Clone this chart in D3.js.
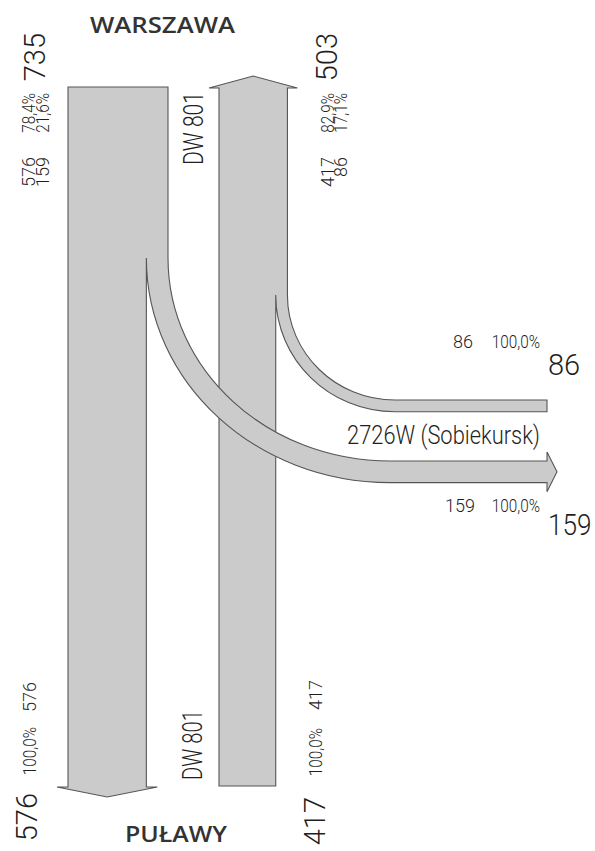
<!DOCTYPE html>
<html>
<head>
<meta charset="utf-8">
<script src="https://cdn.jsdelivr.net/npm/d3@7"></script>
<style>
  body { margin: 0; background: #fff; }
  svg text { font-family: Roboto, "Liberation Sans", sans-serif; font-weight: 300; fill: #1f1f1f; }
  svg text.place { font-family: "Open Sans", "DejaVu Sans", sans-serif; font-weight: 600; fill: #333; }
</style>
</head>
<body>
<script>
// places at both ends of DW 801 and the side road
var places = ["WARSZAWA", "PUŁAWY"];
var roads = ["DW 801", "2726W (Sobiekursk)"];

// traffic leaving Warszawa (left lane, going down): to Puławy, to Sobiekursk
var southNames = ["Puławy", "Sobiekursk"];
var southValues = [576, 159];

// traffic going to Warszawa (right lane, going up): from Puławy, from Sobiekursk
var northNames = ["Puławy", "Sobiekursk"];
var northValues = [417, 86];

var southTotal = d3.sum(southValues);
var northTotal = d3.sum(northValues);

var pct = d3.formatLocale({decimal: ",", thousands: " ", grouping: [3], currency: ["", ""]}).format(".1%");

var W = 595, H = 851;

// band width is proportional to traffic
var bw = d3.scaleLinear().domain([0, southTotal]).range([0, 100]);

var lane = {
    leftX: 68,
    rightX: 219,
    top: 87,
    bottom: 786,
    endX: 547
};

var K = 0.5523;
var SMALL = 18, BIG = 29;

var svg = d3.select("body").append("svg")
    .attr("width", W)
    .attr("height", H);

// vertical tangent (ax,ay) down to horizontal tangent (bx,by)
function quarter(p, ax, ay, bx, by) {
    p.bezierCurveTo(ax, ay + K * (by - ay), bx - K * (bx - ax), by, bx, by);
}
function quarterBack(p, bx, by, ax, ay) {
    p.bezierCurveTo(bx - K * (bx - ax), by, ax, ay + K * (by - ay), ax, ay);
}

function northShape() {
    var x0 = lane.rightX;
    var full = bw(northTotal), keep = bw(northValues[0]), side = bw(northValues[1]);
    var yTurn = 295, cx = 395, yTop = 400;
    var p = d3.path();
    p.moveTo(x0, lane.bottom);
    p.lineTo(x0, 88);
    p.lineTo(x0 - 10, 88);
    p.lineTo(x0 + full / 2, 76);
    p.lineTo(x0 + full + 10, 88);
    p.lineTo(x0 + full, 88);
    p.lineTo(x0 + full, yTurn);
    quarter(p, x0 + full, yTurn, cx, yTop);
    p.lineTo(lane.endX, yTop);
    p.lineTo(lane.endX, yTop + side);
    p.lineTo(cx, yTop + side);
    quarterBack(p, cx, yTop + side, x0 + keep, yTurn);
    p.lineTo(x0 + keep, lane.bottom);
    p.closePath();
    return p.toString();
}

function southShape() {
    var x0 = lane.leftX;
    var full = bw(southTotal), keep = bw(southValues[0]), side = bw(southValues[1]);
    var yTurn = 258, cx = 390, yTop = 461;
    var yEnd = lane.bottom + 1;
    var p = d3.path();
    p.moveTo(x0, lane.top);
    p.lineTo(x0 + full, lane.top);
    p.lineTo(x0 + full, yTurn);
    quarter(p, x0 + full, yTurn, cx, yTop);
    p.lineTo(lane.endX, yTop);
    // arrow to Sobiekursk
    p.lineTo(lane.endX, yTop - 9);
    p.lineTo(lane.endX + 10, yTop + side / 2);
    p.lineTo(lane.endX, yTop + side + 9);
    p.lineTo(lane.endX, yTop + side);
    p.lineTo(cx, yTop + side);
    quarterBack(p, cx, yTop + side, x0 + keep, yTurn);
    // arrow to Puławy
    p.lineTo(x0 + keep, yEnd);
    p.lineTo(x0 + keep + 11, yEnd);
    p.lineTo(x0 + keep / 2, yEnd + 10);
    p.lineTo(x0 - 11, yEnd);
    p.lineTo(x0, yEnd);
    p.closePath();
    return p.toString();
}

svg.selectAll("path.flow")
    .data([northShape(), southShape()])
    .enter()
    .append("path")
    .attr("class", "flow")
    .attr("d", function(d) { return d; })
    .attr("fill", "#cbcbcb")
    .attr("stroke", "#555")
    .attr("stroke-width", 1.1)
    .attr("stroke-linejoin", "miter");

function fit(t, len) {
    t.attr("textLength", len).attr("lengthAdjust", "spacingAndGlyphs");
}

function squeeze(t, f) {
    fit(t, t.node().getComputedTextLength() * f);
}

// rotated label, ends at y (reads bottom to top)
function vlabel(x, y, txt, size, f) {
    var t = svg.append("text")
        .attr("transform", "translate(" + x + "," + y + ") rotate(-90)")
        .attr("text-anchor", "end")
        .style("font-size", size + "px")
        .text(txt);
    if (f) squeeze(t, f);
    return t;
}

function hlabel(x, y, txt, size, anchor, f) {
    var t = svg.append("text")
        .attr("x", x)
        .attr("y", y)
        .attr("text-anchor", anchor || "start")
        .style("font-size", size + "px")
        .text(txt);
    if (f) squeeze(t, f);
    return t;
}

// place names
fit(svg.append("text").attr("class", "place")
    .attr("x", 90).attr("y", 33)
    .style("font-size", "22px")
    .text(places[0]), 145);
fit(svg.append("text").attr("class", "place")
    .attr("x", 125).attr("y", 842)
    .style("font-size", "22px")
    .text(places[1]), 102);

// road names
fit(vlabel(203, 92, roads[0], 28), 73);
fit(vlabel(202, 710, roads[0], 28), 70);
fit(hlabel(347, 444, roads[1], 25), 193);

// Warszawa end, left lane (out of Warszawa)
vlabel(45, 33, southTotal, BIG);
vlabel(35, 93, pct(southValues[0] / southTotal), SMALL, 0.85);
vlabel(49, 93, pct(southValues[1] / southTotal), SMALL, 0.85);
vlabel(35, 157, southValues[0], SMALL);
vlabel(49, 157, southValues[1], SMALL);

// Warszawa end, right lane (into Warszawa)
vlabel(337, 33, northTotal, BIG);
vlabel(334, 93, pct(northValues[0] / northTotal), SMALL, 0.85);
vlabel(347, 93, pct(northValues[1] / northTotal), SMALL, 0.85);
vlabel(334, 157, northValues[0], SMALL);
vlabel(347, 157, northValues[1], SMALL);

// Puławy end
vlabel(36, 682, southValues[0], SMALL);
vlabel(36, 727, pct(1), SMALL, 0.85);
vlabel(37, 793, southValues[0], BIG);
vlabel(322, 680, northValues[0], SMALL);
vlabel(322, 728, pct(1), SMALL, 0.85);
vlabel(325, 797, northValues[0], BIG);

// Sobiekursk end
hlabel(453, 348, northValues[1], SMALL);
hlabel(540, 348, pct(1), SMALL, "end", 0.85);
hlabel(548, 375, northValues[1], BIG);
hlabel(445, 512, southValues[1], SMALL);
hlabel(540, 512, pct(1), SMALL, "end", 0.85);
hlabel(548, 535, southValues[1], BIG, "start", 0.9);
</script>
</body>
</html>
